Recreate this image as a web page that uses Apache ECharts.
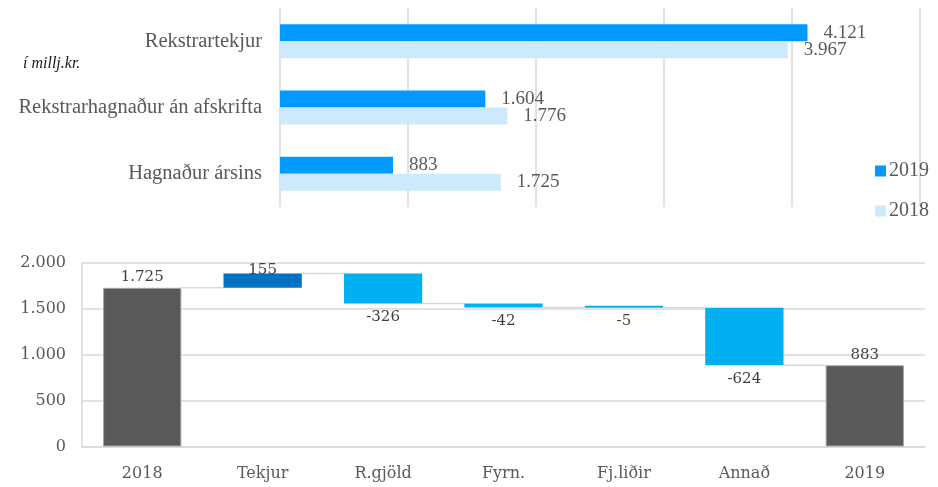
<!DOCTYPE html>
<html><head><meta charset="utf-8">
<script src="https://cdn.jsdelivr.net/npm/echarts@6/dist/echarts.min.js"></script>
<style>html,body{margin:0;padding:0;background:#fff}#c{width:938px;height:487px}</style>
</head><body><div id="c"></div>
<script>
// ---- data ----
const topCategories = ['Rekstrartekjur', 'Rekstrarhagnaður án afskrifta', 'Hagnaður ársins'];
const values2019 = [4121, 1604, 883];
const values2018 = [3967, 1776, 1725];
const topAxisMax = 5000;
const topAxisStep = 1000;

const wfCategories = ['2018', 'Tekjur', 'R.gjöld', 'Fyrn.', 'Fj.liðir', 'Annað', '2019'];
const wfValues = [1725, 155, -326, -42, -5, -624, 883];
const wfAxisMax = 2000;
const wfAxisStep = 500;

// ---- helpers ----
function fmt(v) {
  const s = String(Math.abs(v)).replace(/\B(?=(\d{3})+(?!\d))/g, '.');
  return (v < 0 ? '-' : '') + s;
}

const last = wfValues.length - 1;
let run = 0;
const wfBase = [], wfHeight = [], wfEnds = [];
wfValues.forEach((v, i) => {
  if (i === 0 || i === last) { wfBase.push(0); wfHeight.push(v); run = v; }
  else if (v >= 0) { wfBase.push(run); wfHeight.push(v); run += v; }
  else { run += v; wfBase.push(run); wfHeight.push(-v); }
  wfEnds.push(run);
});

const wfItems = wfHeight.map((h, i) => {
  const v = wfValues[i];
  const total = (i === 0 || i === last);
  const color = total ? '#595959' : (v >= 0 ? '#0070c0' : '#00b0f0');
  const item = {
    value: h,
    itemStyle: { color: color, borderColor: total ? '#a6a6a6' : color, borderWidth: total ? 1 : 0 },
    label: { position: v >= 0 ? 'top' : 'bottom', distance: v >= 0 ? 3 : 6 }
  };
  if (!total && v >= 0) item.label.distance = -4;
  return item;
});

const connectors = [];
for (let i = 0; i < last; i++) connectors.push([i, wfEnds[i]]);

const serifTop = 'Liberation Serif';
const serifBot = 'DejaVu Serif';
const txt = '#595959';

const chart = echarts.init(document.getElementById('c'));
chart.setOption({
  animation: false,
  backgroundColor: '#ffffff',
  title: {
    text: 'í millj.kr.', left: 18, top: 51,
    textStyle: { fontFamily: serifTop, fontStyle: 'italic', fontWeight: 'normal', fontSize: 16, color: '#1a1a1a' }
  },
  legend: {
    data: ['2019', '2018'], orient: 'vertical', left: 870, top: 156,
    icon: 'rect', itemWidth: 11, itemHeight: 11, itemGap: 20,
    textStyle: { fontFamily: serifTop, fontSize: 20, color: txt, lineHeight: 20, padding: [0, 0, 0, -2] }
  },
  grid: [
    { left: 280, right: 18, top: 8, height: 199 },
    { left: 82, right: 13, top: 262.5, bottom: 40.5 }
  ],
  xAxis: [
    {
      gridIndex: 0, type: 'value', min: 0, max: topAxisMax, interval: topAxisStep,
      axisLabel: { show: false }, axisLine: { show: false }, axisTick: { show: false },
      splitLine: { show: true, lineStyle: { color: '#d9d9d9', width: 1.5 } }
    },
    {
      gridIndex: 1, type: 'category', data: wfCategories,
      axisLine: { show: true, lineStyle: { color: '#d9d9d9', width: 1.5 } },
      axisTick: { show: false },
      axisLabel: { fontFamily: serifBot, fontSize: 16, color: txt, margin: 19 }
    }
  ],
  yAxis: [
    {
      gridIndex: 0, type: 'category', data: topCategories, inverse: true,
      axisLine: { show: false }, axisTick: { show: false },
      axisLabel: { fontFamily: serifTop, fontSize: 20.5, color: txt, margin: 18 }
    },
    {
      gridIndex: 1, type: 'value', min: 0, max: wfAxisMax, interval: wfAxisStep,
      axisLine: { show: true, lineStyle: { color: '#d9d9d9', width: 1.5 } },
      axisTick: { show: false },
      axisLabel: { fontFamily: serifBot, fontSize: 16, color: txt, margin: 16, formatter: fmt },
      splitLine: { show: true, lineStyle: { color: '#d9d9d9', width: 1.5 } }
    }
  ],
  series: [
    {
      name: '2019', type: 'bar', xAxisIndex: 0, yAxisIndex: 0, data: values2019,
      barWidth: 17, barGap: '0%', itemStyle: { color: '#0099ff' },
      label: { show: true, position: 'right', distance: 16, fontFamily: serifTop, fontSize: 19, color: txt, formatter: p => fmt(p.value) }
    },
    {
      name: '2018', type: 'bar', xAxisIndex: 0, yAxisIndex: 0, data: values2018,
      barWidth: 17, barGap: '0%', itemStyle: { color: '#cce9fd' },
      label: { show: true, position: 'right', distance: 16, fontFamily: serifTop, fontSize: 19, color: txt, formatter: p => fmt(p.value) }
    },
    {
      name: 'base', type: 'bar', xAxisIndex: 1, yAxisIndex: 1, stack: 'wf', data: wfBase,
      barWidth: '65%', itemStyle: { color: 'rgba(0,0,0,0)' }, silent: true
    },
    {
      name: 'delta', type: 'bar', xAxisIndex: 1, yAxisIndex: 1, stack: 'wf', data: wfItems,
      barWidth: '65%', barMinHeight: 2, z: 3,
      label: { show: true, fontFamily: serifBot, fontSize: 15, color: '#404040', formatter: p => fmt(wfValues[p.dataIndex]) }
    },
    {
      name: 'conn', type: 'custom', xAxisIndex: 1, yAxisIndex: 1, data: connectors,
      encode: { x: 0, y: 1 }, silent: true, z: 1,
      renderItem: function (params, api) {
        const i = api.value(0), lvl = api.value(1);
        const p1 = api.coord([i, lvl]), p2 = api.coord([i + 1, lvl]);
        const bw = api.size([1, 0])[0] * 0.65;
        return { type: 'line', shape: { x1: p1[0] + bw / 2, y1: p1[1], x2: p2[0] - bw / 2, y2: p2[1] },
                 style: { stroke: '#d9d9d9', lineWidth: 1.5 } };
      }
    }
  ]
});
</script></body></html>
